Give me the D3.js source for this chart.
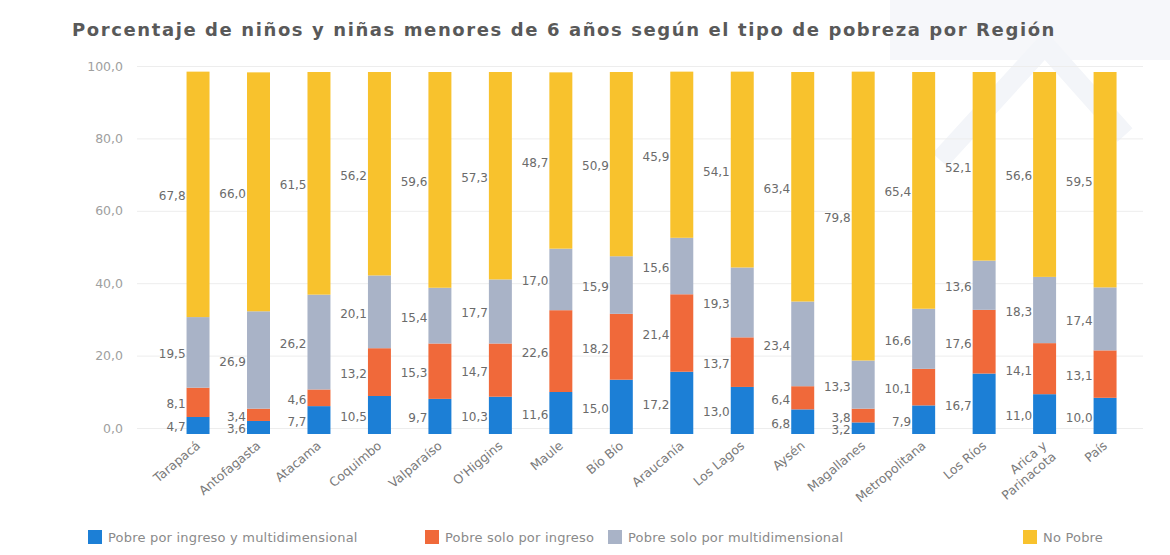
<!DOCTYPE html>
<html><head><meta charset="utf-8">
<script src="https://cdn.jsdelivr.net/npm/d3@7"></script>
<style>
body{margin:0;background:#fff;}
svg{display:block;font-family:"DejaVu Sans","Noto Sans",sans-serif;}
</style></head>
<body><svg id="chart" width="1170" height="555"></svg>
<script>
const title = "Porcentaje de niños y niñas menores de 6 años según el tipo de pobreza por Región";
const regions = ["Tarapacá","Antofagasta","Atacama","Coquimbo","Valparaíso","O'Higgins","Maule","Bío Bío","Araucanía","Los Lagos","Aysén","Magallanes","Metropolitana","Los Ríos","Arica y Parinacota","País"];
const seriesNames = ["Pobre por ingreso y multidimensional","Pobre solo por ingreso","Pobre solo por multidimensional","No Pobre"];
const pobreAmbos = [4.7,3.6,7.7,10.5,9.7,10.3,11.6,15.0,17.2,13.0,6.8,3.2,7.9,16.7,11.0,10.0];
const pobreIngreso = [8.1,3.4,4.6,13.2,15.3,14.7,22.6,18.2,21.4,13.7,6.4,3.8,10.1,17.6,14.1,13.1];
const pobreMulti = [19.5,26.9,26.2,20.1,15.4,17.7,17.0,15.9,15.6,19.3,23.4,13.3,16.6,13.6,18.3,17.4];
const noPobre = [67.8,66.0,61.5,56.2,59.6,57.3,48.7,50.9,45.9,54.1,63.4,79.8,65.4,52.1,56.6,59.5];
const yTicks = [0,20,40,60,80,100];
const colors = ["#1c7fd6","#f0693a","#a9b3c7","#f8c22d"];

const svg = d3.select("#chart");
const seriesVals = [pobreAmbos,pobreIngreso,pobreMulti,noPobre];
const keys = ["s0","s1","s2","s3"];
const rows = regions.map((r,i)=>{const o={region:r}; keys.forEach((k,j)=>o[k]=seriesVals[j][i]); return o;});
const stacked = d3.stack().keys(keys)(rows);

const x = d3.scaleBand().domain(regions).range([167.8,1135.3]).paddingInner(0.62).paddingOuter(0.31);
const y = d3.scaleLinear().domain([0,100]).range([434,72]);
const loc = d3.formatLocale({decimal:",",thousands:".",grouping:[3],currency:["$",""]});
const fmt = loc.format(".1f");

// faint background watermark
svg.append("rect").attr("x",890).attr("y",0).attr("width",280).attr("height",60).attr("fill","#f6f7fa");
svg.append("path").attr("d","M940,160 L1045,45 L1125,135").attr("fill","none").attr("stroke","#f3f5f9").attr("stroke-width",20);

// title
svg.append("text").attr("x",72).attr("y",36).attr("fill","#595959")
  .style("font-size","18px").style("font-weight","700").style("letter-spacing","1.6px").text(title);

// axis
const axisG = svg.append("g").attr("transform","translate(137,-6)");
const yAxis = d3.axisLeft(y).tickValues(yTicks).tickSize(-1006).tickFormat(fmt).tickPadding(14);
axisG.call(yAxis);
axisG.select(".domain").remove();
axisG.selectAll(".tick line").attr("stroke","#ededed");
axisG.selectAll(".tick text").attr("fill","#a0a0a0").style("font-size","12.5px").attr("font-family","'DejaVu Sans',sans-serif");

// bars
const layers = svg.append("g").selectAll("g").data(stacked).join("g").attr("fill",(d,i)=>colors[i]);
layers.selectAll("rect").data(d=>d).join("rect")
  .attr("x",d=>x(d.data.region)).attr("width",x.bandwidth())
  .attr("y",d=>y(d[1])).attr("height",d=>y(d[0])-y(d[1]));

// value labels with simple vertical de-overlap per bar
const lab = svg.append("g").style("font-size","12px").attr("fill","#6b6b6b");
regions.forEach((r,i)=>{
  const items = stacked.map(s=>({v:s[i][1]-s[i][0], yy:(y(s[i][0])+y(s[i][1]))/2+2}));
  for(let k=1;k<items.length;k++){
    if(items[k-1].yy - items[k].yy < 12){
      const mid=(items[k-1].yy+items[k].yy)/2;
      items[k-1].yy = Math.min(mid+6, 440);
      items[k].yy = items[k-1].yy-12;
    }
  }
  lab.selectAll(null).data(items).join("text")
    .attr("x",x(r)-1).attr("y",d=>d.yy)
    .attr("text-anchor","end").attr("dominant-baseline","central")
    .text(d=>fmt(d.v));
});

// x labels
const xl = svg.append("g").style("font-size","12.5px").attr("fill","#7a7a7a");
regions.forEach(r=>{
  const cx = x(r)+x.bandwidth()/2;
  const t = xl.append("text").attr("text-anchor","end")
    .attr("transform",`translate(${cx+3},${447}) rotate(-40)`);
  if(r==="Arica y Parinacota"){
    t.append("tspan").attr("x",0).attr("dy","0").text("Arica y");
    t.append("tspan").attr("x",0).attr("dy","1.15em").text("Parinacota");
  } else t.text(r);
});

// legend
const legX = [88,425,608,1023];
const lg = svg.append("g").style("font-size","13px").style("letter-spacing","0.2px");
seriesNames.forEach((n,i)=>{
  lg.append("rect").attr("x",legX[i]).attr("y",530).attr("width",14).attr("height",14).attr("fill",colors[i]);
  lg.append("text").attr("x",legX[i]+20).attr("y",537).attr("dominant-baseline","central").attr("fill","#8a8a8a").text(n);
});
</script></body></html>
